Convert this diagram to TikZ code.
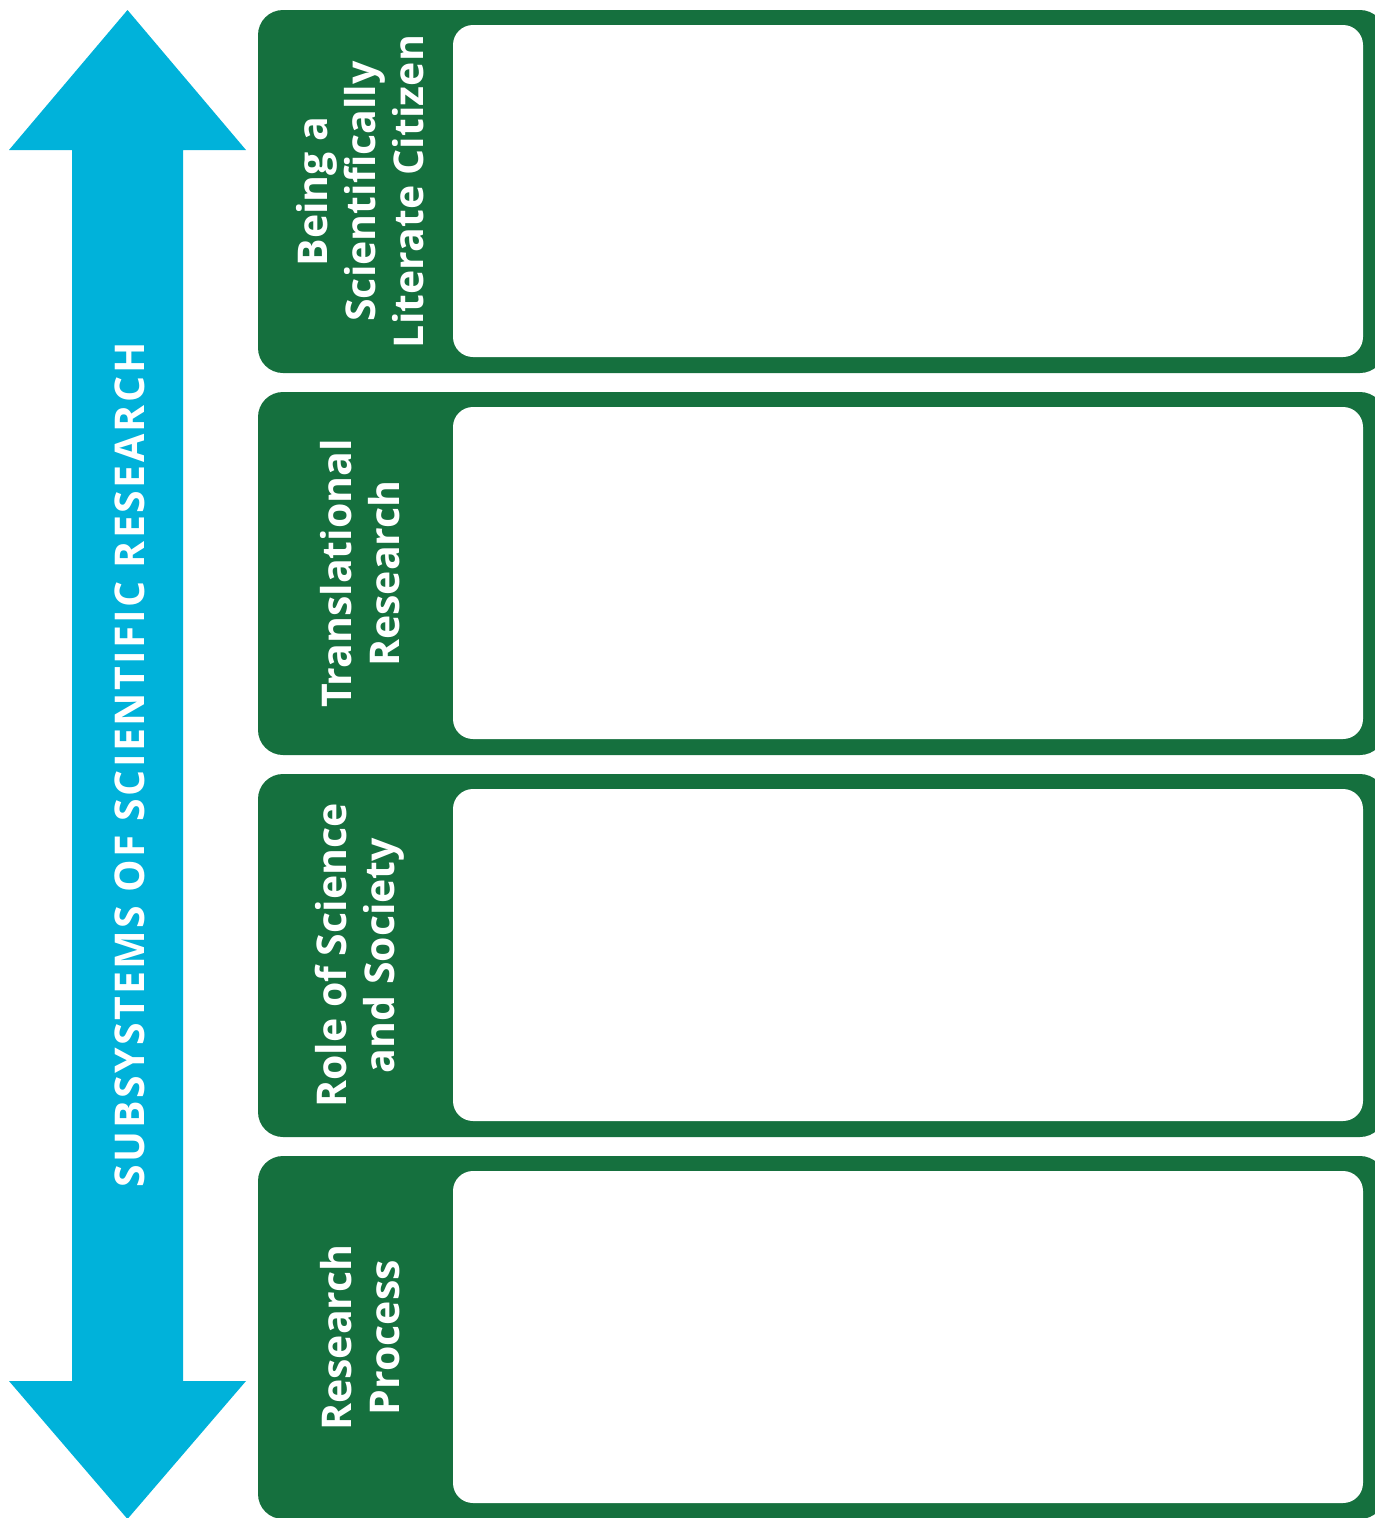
\documentclass[tikz,border=0pt]{standalone}
\usepackage{fontspec}
\setmainfont{Open Sans}
\newfontfamily\lblfont[LetterSpace=6]{Open Sans}
\definecolor{arrowblue}{RGB}{0,178,218}
\definecolor{boxgreen}{RGB}{21,112,62}
\begin{document}
\begin{tikzpicture}[x=1pt,y=-1pt,
  outerbox/.style={fill=boxgreen,rounded corners=25pt},
  innerbox/.style={fill=white,rounded corners=20pt},
  boxlabel/.style={text=white,rotate=90,align=center,inner sep=0pt,
    font=\fontsize{41}{48}\selectfont\bfseries},
  arrowlabel/.style={text=white,rotate=90,inner sep=0pt,
    font=\fontsize{41}{48}\selectfont\lblfont\bfseries}]
\useasboundingbox (0,0) rectangle (1375,1518);
\begin{scope}
\clip (0,0) rectangle (1375,1518);
% double arrow
\fill[arrowblue] (127.5,10) -- (246,150) -- (183,150) -- (183,1381) -- (246,1381)
  -- (127.5,1519) -- (9,1381) -- (72,1381) -- (72,150) -- (9,150) -- cycle;
% boxes
\foreach \t in {10,392,774,1156}{
  \path[outerbox] (258,\t) rectangle (1385,\t+363);
  \path[innerbox] (453,\t+15) rectangle (1363,\t+347);
}
\end{scope}
\node[arrowlabel] (axis) at (130,765) {SUBSYSTEMS OF SCIENTIFIC RESEARCH};
\node[boxlabel] (b1) at (360,191.5) {Being a\\Scientifically\\Literate Citizen};
\node[boxlabel] (b2) at (360,573.5) {Translational\\Research};
\node[boxlabel] (b3) at (360,955.5) {Role of Science\\and Society};
\node[boxlabel] (b4) at (360,1337.5) {Research\\Process};
\end{tikzpicture}
\end{document}
